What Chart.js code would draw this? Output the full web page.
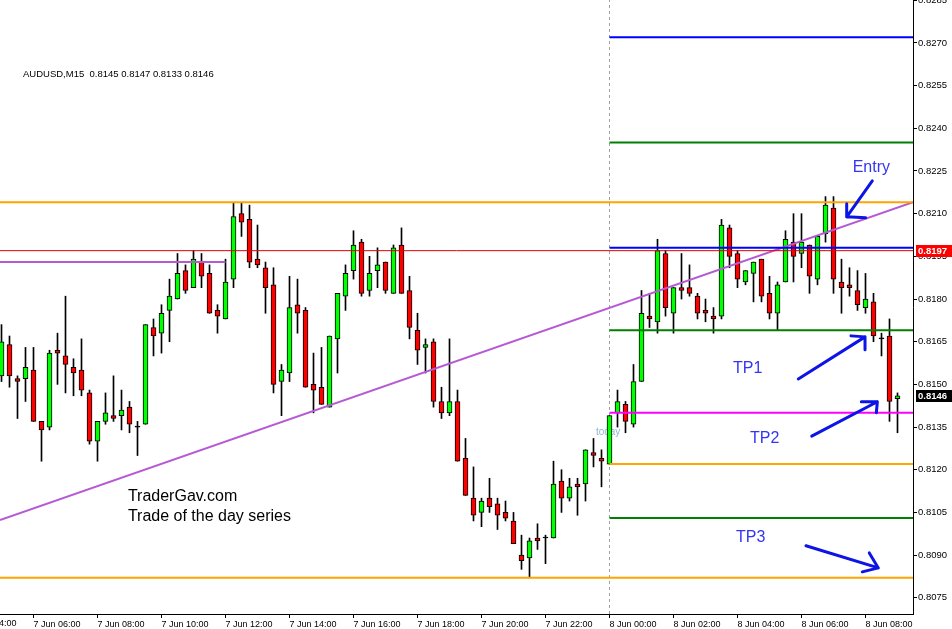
<!DOCTYPE html>
<html>
<head>
<meta charset="utf-8">
<script src="https://cdn.jsdelivr.net/npm/chart.js@4.4.0/dist/chart.umd.min.js"></script>
<style>
  html, body { margin: 0; padding: 0; background: #fff; }
  #wrap { width: 952px; height: 629px; }
</style>
</head>
<body>
<div id="wrap"><canvas id="chart" width="952" height="629"></canvas></div>
<script>
// ---- AUDUSD M15, 7 Jun 05:00 .. 8 Jun 09:00 (bar index 0..112) ----
const symbol = 'AUDUSD,M15';

const opens = [
  0.8153, 0.8164, 0.8152, 0.8152, 0.8155, 0.8137, 0.8135, 0.8162, 0.8160, 0.8156,
  0.8155, 0.8147, 0.8130, 0.8137, 0.8139, 0.8139, 0.8142, 0.8135, 0.8136, 0.8170,
  0.8168, 0.8176, 0.8180, 0.8190, 0.8184, 0.8193, 0.8189, 0.8176, 0.8173, 0.8187,
  0.8210, 0.8208, 0.8194, 0.8191, 0.8185, 0.8151, 0.8154, 0.8178, 0.8176, 0.8150,
  0.8149, 0.8142, 0.8166, 0.8181, 0.8190, 0.8200, 0.8183, 0.8190, 0.8193, 0.8182,
  0.8199, 0.8183, 0.8169, 0.8163, 0.8165, 0.8144, 0.8140, 0.8144, 0.8124, 0.8110,
  0.8105, 0.8110, 0.8108, 0.8105, 0.8102, 0.8090, 0.8089, 0.8096, 0.8096, 0.8096,
  0.8116, 0.8110, 0.8115, 0.8115, 0.8126, 0.8124, 0.8122, 0.8140, 0.8143, 0.8136,
  0.8151, 0.8174, 0.8172, 0.8196, 0.8175, 0.8184, 0.8184, 0.8181, 0.8176, 0.8174,
  0.8174, 0.8205, 0.8196, 0.8186, 0.8189, 0.8194, 0.8182, 0.8175, 0.8186, 0.8200,
  0.8196, 0.8199, 0.8187, 0.8203, 0.8212, 0.8186, 0.8185, 0.8183, 0.8177, 0.8179,
  0.8166, 0.8167, 0.8145
];
const highs = [
  0.8171, 0.8167, 0.8153, 0.8163, 0.8163, 0.8137, 0.8162, 0.8168, 0.8181, 0.8159,
  0.8166, 0.8148, 0.8137, 0.8147, 0.8153, 0.8148, 0.8144, 0.8137, 0.8171, 0.8173,
  0.8178, 0.8187, 0.8196, 0.8192, 0.8197, 0.8196, 0.8192, 0.8178, 0.8194, 0.8214,
  0.8214, 0.8213, 0.8206, 0.8193, 0.8191, 0.8157, 0.8188, 0.8187, 0.8177, 0.8161,
  0.8163, 0.8167, 0.8182, 0.8192, 0.8204, 0.8201, 0.8195, 0.8198, 0.8193, 0.8199,
  0.8205, 0.8188, 0.8175, 0.8166, 0.8166, 0.8149, 0.8166, 0.8148, 0.8131, 0.8121,
  0.8110, 0.8117, 0.8110, 0.8109, 0.8105, 0.8097, 0.8096, 0.8101, 0.8097, 0.8123,
  0.8120, 0.8117, 0.8117, 0.8127, 0.8131, 0.8127, 0.8139, 0.8148, 0.8144, 0.8157,
  0.8183, 0.8182, 0.8201, 0.8197, 0.8184, 0.8196, 0.8192, 0.8182, 0.8180, 0.8177,
  0.8208, 0.8206, 0.8197, 0.8190, 0.8193, 0.8194, 0.8188, 0.8186, 0.8204, 0.8210,
  0.8210, 0.8199, 0.8202, 0.8216, 0.8216, 0.8194, 0.8191, 0.8190, 0.8189, 0.8182,
  0.8168, 0.8173, 0.8147
];
const lows = [
  0.8151, 0.8149, 0.8138, 0.8144, 0.8137, 0.8123, 0.8134, 0.8150, 0.8147, 0.8146,
  0.8146, 0.8129, 0.8123, 0.8136, 0.8137, 0.8134, 0.8133, 0.8125, 0.8136, 0.8160,
  0.8161, 0.8165, 0.8180, 0.8182, 0.8184, 0.8184, 0.8175, 0.8168, 0.8173, 0.8184,
  0.8202, 0.8191, 0.8191, 0.8175, 0.8147, 0.8139, 0.8151, 0.8168, 0.8149, 0.8140,
  0.8143, 0.8142, 0.8154, 0.8176, 0.8187, 0.8181, 0.8181, 0.8184, 0.8182, 0.8182,
  0.8182, 0.8166, 0.8157, 0.8154, 0.8142, 0.8138, 0.8139, 0.8123, 0.8111, 0.8102,
  0.8100, 0.8105, 0.8099, 0.8102, 0.8094, 0.8085, 0.8082, 0.8092, 0.8087, 0.8096,
  0.8105, 0.8109, 0.8104, 0.8109, 0.8121, 0.8114, 0.8122, 0.8135, 0.8133, 0.8135,
  0.8151, 0.8170, 0.8168, 0.8174, 0.8168, 0.8180, 0.8181, 0.8173, 0.8172, 0.8168,
  0.8173, 0.8191, 0.8184, 0.8185, 0.8179, 0.8179, 0.8173, 0.8169, 0.8186, 0.8186,
  0.8191, 0.8182, 0.8185, 0.8200, 0.8182, 0.8175, 0.8181, 0.8176, 0.8175, 0.8165,
  0.8160, 0.8137, 0.8133
];
const closes = [
  0.8165, 0.8153, 0.8151, 0.8156, 0.8137, 0.8134, 0.8161, 0.8161, 0.8157, 0.8154,
  0.8148, 0.8130, 0.8137, 0.8140, 0.8138, 0.8141, 0.8136, 0.8135, 0.8171, 0.8167,
  0.8175, 0.8181, 0.8189, 0.8183, 0.8194, 0.8188, 0.8175, 0.8174, 0.8186, 0.8209,
  0.8207, 0.8193, 0.8192, 0.8184, 0.8150, 0.8155, 0.8177, 0.8175, 0.8149, 0.8148,
  0.8143, 0.8167, 0.8182, 0.8189, 0.8199, 0.8182, 0.8189, 0.8192, 0.8183, 0.8198,
  0.8182, 0.8170, 0.8162, 0.8164, 0.8144, 0.8140, 0.8144, 0.8123, 0.8111, 0.8104,
  0.8109, 0.8107, 0.8104, 0.8103, 0.8094, 0.8088, 0.8095, 0.8095, 0.8096, 0.8115,
  0.8110, 0.8114, 0.8114, 0.8127, 0.8125, 0.8123, 0.8139, 0.8144, 0.8137, 0.8151,
  0.8175, 0.8173, 0.8197, 0.8177, 0.8184, 0.8183, 0.8182, 0.8175, 0.8175, 0.8173,
  0.8206, 0.8195, 0.8187, 0.8190, 0.8193, 0.8181, 0.8175, 0.8185, 0.8201, 0.8195,
  0.8200, 0.8188, 0.8202, 0.8213, 0.8187, 0.8184, 0.8184, 0.8178, 0.8180, 0.8167,
  0.8166, 0.8144, 0.8146
];

// time axis: a label every 8 bars (2 hours)
const xTickIndex = [4, 12, 20, 28, 36, 44, 52, 60, 68, 76, 84, 92, 100, 108];
const xTickLabels = [
  '7 Jun 06:00', '7 Jun 08:00', '7 Jun 10:00', '7 Jun 12:00', '7 Jun 14:00',
  '7 Jun 16:00', '7 Jun 18:00', '7 Jun 20:00', '7 Jun 22:00', '8 Jun 00:00',
  '8 Jun 02:00', '8 Jun 04:00', '8 Jun 06:00', '8 Jun 08:00'
];
const firstHiddenTick = { index: -4, label: '7 Jun 04:00' };
const yTickValues = [
  0.8075, 0.8090, 0.8105, 0.8120, 0.8135, 0.8150, 0.8165, 0.8180,
  0.8195, 0.8210, 0.8225, 0.8240, 0.8255, 0.8270, 0.8285
];

// ---- drawn levels ----
const fullLevels = [0.8214, 0.8082];                       // orange, whole chart
const dayStart = 76;                                      // 8 Jun 00:00
const dayLevels = [0.8272, 0.8235, 0.8198, 0.8169, 0.8140, 0.8122, 0.8103];
const dayLevelColors = ['#0000ff', '#008000', '#0000ff', '#008000', '#ff00ff', '#ffa500', '#008000'];
const alertPrice = 0.8197;
const oldLevelPrice = 0.8193;
const oldLevelEnd = 28;
const trendBars = [0, 112];
const trendPrices = [0.81025, 0.82121];

// ---- notes: [bar, price] ----
const noteTexts = ['Entry', 'TP1', 'TP2', 'TP3'];
const notePos = [[106.4, 0.82261], [91.44, 0.81554], [93.56, 0.81308], [91.81, 0.80960]];
const arrowFrom = [[108.85, 0.82215], [99.6, 0.81519], [101.28, 0.81318], [100.56, 0.80933]];
const arrowTo = [[105.65, 0.82089], [107.94, 0.81667], [109.48, 0.81439], [109.6, 0.80855]];
const brandLines = ['TraderGav.com', 'Trade of the day series'];
const brandPos = [[15.8, 0.81104], [15.8, 0.81037]];
const todayPos = [74.3, 0.81332];

(function () {
  const xMin = -0.1875;
  const xMax = 113.9375;
  const yMin = 0.80693;
  const yMax = 0.82851;
  const last = closes.length - 1;
  const fmt = (v) => v.toFixed(4);
  const axisFont = { family: '"Liberation Sans", Arial, sans-serif', size: 9 };

  // ---- candles: floating bars ----
  const wickData = lows.map((l, i) => ({ x: i, y: [l, highs[i]] }));
  const bodyData = opens.map((o, i) => ({ x: i, y: [Math.min(o, closes[i]), Math.max(o, closes[i])] }));
  const bodyColors = opens.map((o, i) => (closes[i] > o ? '#00ff00' : closes[i] < o ? '#ff0000' : '#000000'));

  const line = (data, color, width, order, dash) => ({
    type: 'line',
    data,
    borderColor: color,
    borderWidth: width,
    borderDash: dash || [],
    pointRadius: 0,
    fill: false,
    tension: 0,
    order,
  });
  const flat = (from, to, price) => [{ x: from, y: price }, { x: to, y: price }];

  // trend line extended to both chart edges (it is a ray on the terminal)
  const slope = (trendPrices[1] - trendPrices[0]) / (trendBars[1] - trendBars[0]);
  const trendData = [xMin, xMax].map((x) => ({ x, y: trendPrices[0] + slope * (x - trendBars[0]) }));

  const datasets = [
    line([{ x: dayStart, y: yMin }, { x: dayStart, y: yMax }], '#a0a0a0', 1, 10, [3, 3]),
    {
      type: 'bar', data: wickData, backgroundColor: '#000000', borderWidth: 0,
      barThickness: 1, grouped: false, order: 6,
    },
    {
      type: 'bar', data: bodyData, backgroundColor: bodyColors, borderColor: '#000000',
      borderWidth: 1, borderSkipped: false, barThickness: 5, minBarLength: 1,
      grouped: false, order: 5,
    },
    line(flat(xMin, xMax, alertPrice), '#e00000', 1, 2),
    line(flat(xMin, oldLevelEnd, oldLevelPrice), '#b65ad4', 2, 2),
    line(trendData, '#b65ad4', 2, 2),
  ];
  fullLevels.forEach((p) => datasets.push(line(flat(xMin, xMax, p), '#ffa500', 2, 1)));
  dayLevels.forEach((p, i) => datasets.push(line(flat(dayStart, xMax, p), dayLevelColors[i], 2, 1)));

  // ---- text, arrows, price tags ----
  const overlay = {
    id: 'overlay',
    beforeDatasetsDraw(chart) {
      const { ctx, scales: { x, y } } = chart;
      ctx.save();
      ctx.font = '10px "Liberation Sans", Arial, sans-serif';
      ctx.fillStyle = '#8cb6d6';
      ctx.textBaseline = 'middle';
      ctx.fillText('today', x.getPixelForValue(todayPos[0]), y.getPixelForValue(todayPos[1]));
      ctx.restore();
    },
    afterDatasetsDraw(chart) {
      const { ctx, scales: { x, y } } = chart;
      const px = (p) => [x.getPixelForValue(p[0]), y.getPixelForValue(p[1])];
      ctx.save();
      ctx.textBaseline = 'middle';
      ctx.textAlign = 'left';

      ctx.font = '16px "Liberation Sans", Arial, sans-serif';
      ctx.fillStyle = '#000000';
      brandLines.forEach((t, i) => {
        const [tx, ty] = px(brandPos[i]);
        ctx.fillText(t, tx, ty);
      });

      ctx.fillStyle = '#3434f4';
      noteTexts.forEach((t, i) => {
        const [tx, ty] = px(notePos[i]);
        ctx.fillText(t, tx, ty);
      });

      // hand drawn arrows: shaft + two barbs (pixel offsets from the tip)
      const barbs = [
        [[0, -13], [19, 1]],
        [[-14, -1], [0, 13]],
        [[-16, 0], [-1, 11]],
        [[-9, -15], [-16, 4]],
      ];
      ctx.strokeStyle = '#0c14e6';
      ctx.lineWidth = 3;
      ctx.lineCap = 'round';
      arrowFrom.forEach((a, i) => {
        const [x0, y0] = px(a);
        const [x1, y1] = px(arrowTo[i]);
        ctx.beginPath();
        ctx.moveTo(x0, y0);
        ctx.lineTo(x1, y1);
        barbs[i].forEach(([dx, dy]) => {
          ctx.moveTo(x1, y1);
          ctx.lineTo(x1 + dx, y1 + dy);
        });
        ctx.stroke();
      });
      ctx.restore();
    },
    afterDraw(chart) {
      const { ctx, scales: { x, y } } = chart;
      ctx.save();
      ctx.textBaseline = 'middle';
      ctx.textAlign = 'left';

      ctx.font = '9.5px "Liberation Sans", Arial, sans-serif';
      ctx.fillStyle = '#000000';
      ctx.fillText(`${symbol}  ${fmt(opens[last])} ${fmt(highs[last])} ${fmt(lows[last])} ${fmt(closes[last])}`, 23, 74);

      // first time label is cut by the left edge
      ctx.font = '9px "Liberation Sans", Arial, sans-serif';
      ctx.textBaseline = 'top';
      ctx.fillText(firstHiddenTick.label, x.getPixelForValue(firstHiddenTick.index), x.top + 5);

      const tag = (price, bg) => {
        const ty = y.getPixelForValue(price);
        ctx.fillStyle = bg;
        ctx.fillRect(y.left + 3, Math.round(ty) - 6, 36, 12);
        ctx.fillStyle = '#ffffff';
        ctx.font = 'bold 9.5px "Liberation Sans", Arial, sans-serif';
        ctx.textBaseline = 'middle';
        ctx.fillText(fmt(price), y.left + 5, Math.round(ty));
      };
      tag(alertPrice, '#ff0000');
      tag(closes[last], '#000000');
      ctx.restore();
    },
  };

  new Chart(document.getElementById('chart'), {
    type: 'bar',
    data: { datasets },
    plugins: [overlay],
    options: {
      responsive: false,
      animation: false,
      layout: { padding: 0 },
      plugins: { legend: { display: false }, tooltip: { enabled: false } },
      scales: {
        x: {
          type: 'linear',
          min: xMin,
          max: xMax,
          offset: false,
          afterBuildTicks: (s) => { s.ticks = xTickIndex.map((v) => ({ value: v })); },
          afterFit: (s) => { s.height = 15; s.paddingLeft = 0; s.paddingRight = 0; },
          grid: { drawOnChartArea: false, drawTicks: true, tickLength: 4, color: '#000000', offset: false },
          border: { display: true, color: '#000000', width: 1 },
          ticks: {
            autoSkip: false, maxRotation: 0, align: 'start', padding: 1,
            color: '#000000', font: axisFont,
            callback: (v, i) => xTickLabels[i],
          },
        },
        y: {
          position: 'right',
          min: yMin,
          max: yMax,
          afterBuildTicks: (s) => { s.ticks = yTickValues.map((v) => ({ value: v })); },
          afterFit: (s) => { s.width = 39; s.paddingTop = 0; s.paddingBottom = 0; },
          grid: { drawOnChartArea: false, drawTicks: true, tickLength: 4, color: '#000000' },
          border: { display: true, color: '#000000', width: 1 },
          ticks: {
            padding: 1, color: '#000000',
            font: { family: '"Liberation Sans", Arial, sans-serif', size: 9.5 },
            callback: (v) => v.toFixed(4),
          },
        },
      },
    },
  });
})();
</script>
</body>
</html>
